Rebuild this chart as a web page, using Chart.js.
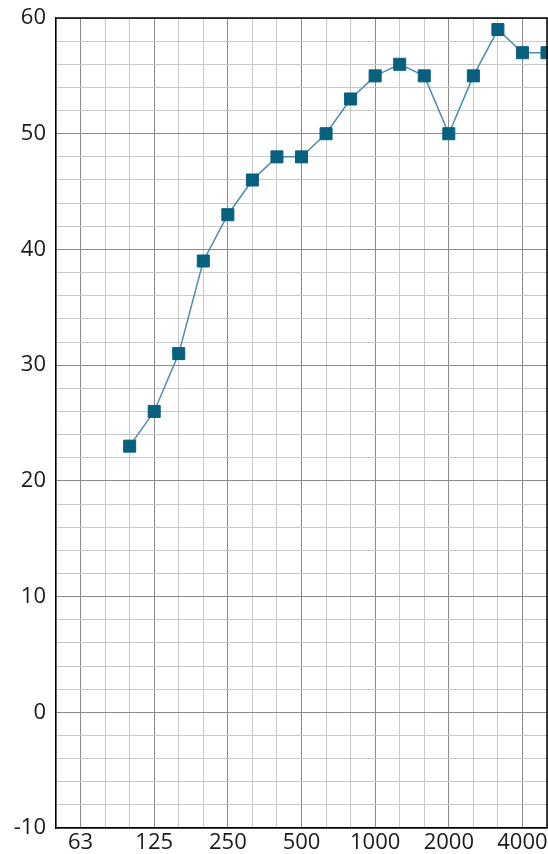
<!DOCTYPE html>
<html>
<head>
<meta charset="utf-8">
<script src="https://cdn.jsdelivr.net/npm/chart.js@4/dist/chart.umd.min.js"></script>
<style>
  html, body { margin: 0; padding: 0; background: #fff; overflow: hidden; }
  #wrap { width: 548px; height: 854px; position: relative; }
  canvas { display: block; }
</style>
</head>
<body>
<div id="wrap"><canvas id="c"></canvas></div>
<script>
// Third-octave band centre frequencies (Hz)
const bands = ['50','63','80','100','125','160','200','250','315','400','500','630','800','1000','1250','1600','2000','2500','3150','4000','5000'];
// Level per band (dB); no values below 100 Hz
const levels = [null, null, null, 23, 26, 31, 39, 43, 46, 48, 48, 50, 53, 55, 56, 55, 50, 55, 59, 57, 57];
// Octave bands that carry a label on the x axis
const octaveLabels = ['63','125','250','500','1000','2000','4000'];
// Y axis range and labelled values
const yMin = -10, yMax = 60, yStep = 2;
const yLabelEvery = 10;

const FONT = "'Open Sans', 'Noto Sans', sans-serif";

new Chart(document.getElementById('c'), {
  type: 'line',
  data: {
    labels: bands,
    datasets: [{
      data: levels,
      borderColor: '#4f8cab',
      borderWidth: 1.5,
      pointStyle: 'rect',
      pointRadius: 8.5,
      pointHoverRadius: 8.5,
      pointBackgroundColor: '#08607f',
      pointBorderColor: '#08607f',
      pointBorderWidth: 1,
      tension: 0,
      spanGaps: false,
      clip: false
    }]
  },
  options: {
    responsive: true,
    maintainAspectRatio: false,
    animation: false,
    events: [],
    layout: { autoPadding: false, padding: { top: 18, right: 1, left: 0, bottom: 0 } },
    plugins: { legend: { display: false }, tooltip: { enabled: false } },
    scales: {
      x: {
        type: 'category',
        offset: false,
        grid: {
          drawTicks: false,
          lineWidth: 1,
          color: ctx => octaveLabels.includes(bands[ctx.index]) ? '#8a8a8a' : '#c8c8c8'
        },
        border: { display: true, color: '#000', width: 1.5 },
        ticks: {
          autoSkip: false,
          maxRotation: 0,
          padding: 2,
          color: '#1a1a1a',
          font: { family: FONT, size: 22 },
          callback: function (v, i) {
            const b = bands[i];
            return octaveLabels.includes(b) ? b : '';
          }
        },
        afterFit: s => { s.height = 26; s.paddingLeft = 0; s.paddingRight = 0; }
      },
      y: {
        min: yMin,
        max: yMax,
        grid: {
          drawTicks: false,
          lineWidth: 1,
          color: ctx => (ctx.tick && ctx.tick.value % yLabelEvery === 0) ? '#8a8a8a' : '#c8c8c8'
        },
        border: { display: true, color: '#000', width: 1.5 },
        ticks: {
          stepSize: yStep,
          autoSkip: false,
          padding: 10,
          color: '#1a1a1a',
          font: { family: FONT, size: 22 },
          callback: v => (v % yLabelEvery === 0 ? String(v) : '')
        },
        afterFit: s => { s.width = 56; s.paddingTop = 0; s.paddingBottom = 0; }
      }
    }
  },
  plugins: [{
    id: 'frame',
    afterDraw(chart) {
      const { ctx, chartArea: a } = chart;
      ctx.save();
      ctx.strokeStyle = '#000';
      ctx.lineWidth = 1.5;
      ctx.beginPath();
      ctx.moveTo(a.left, a.top);
      ctx.lineTo(a.right, a.top);
      ctx.lineTo(a.right, a.bottom);
      ctx.stroke();
      ctx.restore();
    }
  }]
});
</script>
</body>
</html>
